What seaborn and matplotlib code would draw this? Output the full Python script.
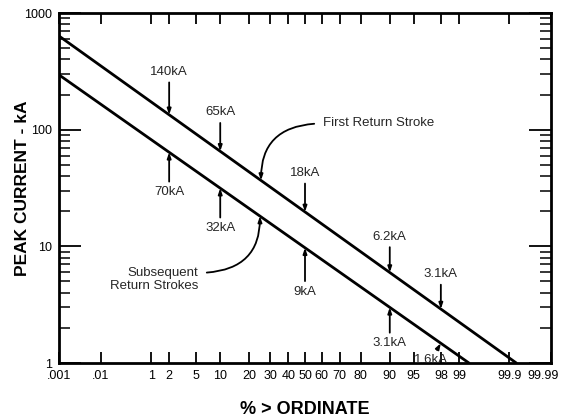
import numpy as np
import pandas as pd
import matplotlib
matplotlib.use("Agg")
import matplotlib.pyplot as plt
import matplotlib.transforms as mtransforms
from matplotlib.ticker import LogLocator, NullFormatter, FixedLocator, FixedFormatter
import seaborn as sns
from statistics import NormalDist

# ---- data ----
first_pct = [0.01, 99.93]      # % > ordinate
first_kA = [635, 1]
sub_pct = [0.01, 99.34]
sub_kA = [295, 1]

first_label_pct = [2, 10, 50, 90, 98]
first_label_txt = ["140kA", "65kA", "18kA", "6.2kA", "3.1kA"]
sub_label_pct = [2, 10, 50, 90, 98]
sub_label_txt = ["70kA", "32kA", "9kA", "3.1kA", "1.6kA"]

xtick_pos = [0.01, 0.1, 1, 2, 5, 10, 20, 30, 40, 50, 60, 70, 80, 90, 95, 98, 99, 99.9, 99.99]
xtick_labels = [".001", ".01", "1", "2", "5", "10", "20", "30", "40", "50", "60", "70",
                "80", "90", "95", "98", "99", "99.9", "99.99"]
ytick_pos = [1, 10, 100, 1000]
ytick_labels = ["1", "10", "100", "1000"]

first_leader_pct = 25.3
sub_leader_pct = 24.8

# ---- style ----
sns.set_style("ticks")
plt.rcParams["font.family"] = ["Liberation Sans", "DejaVu Sans"]

ND = NormalDist()


def fwd(p):
    p = np.asarray(p, dtype=float)
    q = np.clip(p / 100.0, 1e-12, 1 - 1e-12)
    out = []
    for v in q.ravel():
        try:
            out.append(ND.inv_cdf(float(v)))
        except Exception:
            out.append(np.nan)
    return np.array(out).reshape(q.shape)


def inv(z):
    z = np.asarray(z, dtype=float)
    out = [ND.cdf(float(v)) * 100 if np.isfinite(v) else np.nan for v in z.ravel()]
    return np.array(out).reshape(z.shape)


def line_at(pcts, vals, p):
    zs = fwd(np.array(pcts))
    lv = np.log10(np.array(vals, dtype=float))
    return 10 ** np.interp(fwd(np.array([p]))[0], zs, lv)


df = pd.DataFrame({
    "pct": first_pct + sub_pct,
    "kA": first_kA + sub_kA,
    "series": ["First Return Stroke"] * len(first_pct) + ["Subsequent Return Strokes"] * len(sub_pct),
})

fig = plt.figure(figsize=(5.62, 4.2), dpi=100)
ax = fig.add_axes([59 / 562, 1 - 363 / 420, (551 - 59) / 562, (363 - 13) / 420])

sns.lineplot(data=df, x="pct", y="kA", hue="series", palette=["black", "black"],
             estimator=None, sort=False, legend=False, linewidth=2.0, ax=ax)

ax.set_xscale("function", functions=(fwd, inv))
ax.set_yscale("log")
ax.set_xlim(0.01, 99.99)
ax.set_ylim(1, 1000)

ax.xaxis.set_major_locator(FixedLocator(xtick_pos))
ax.xaxis.set_major_formatter(FixedFormatter(xtick_labels))
ax.xaxis.set_minor_locator(FixedLocator([]))
ax.yaxis.set_major_locator(FixedLocator(ytick_pos))
ax.yaxis.set_major_formatter(FixedFormatter(ytick_labels))
ax.yaxis.set_minor_locator(LogLocator(base=10, subs=np.arange(2, 10)))
ax.yaxis.set_minor_formatter(NullFormatter())

ax.tick_params(axis="x", which="major", direction="in", length=8, width=1.3,
               top=True, bottom=True, labelsize=9, pad=5, colors="black")
ax.tick_params(axis="y", which="major", direction="in", length=16, width=1.3,
               left=True, right=True, labelsize=9, pad=5, colors="black")
ax.tick_params(axis="y", which="minor", direction="in", length=8, width=1.3,
               left=True, right=True)
for s in ax.spines.values():
    s.set_linewidth(2.0)
    s.set_color("black")
    s.set_visible(True)

ax.set_xlabel("% > ORDINATE", fontsize=13, fontweight="bold", color="black")
ax.set_ylabel("PEAK CURRENT - kA", fontsize=12.5, fontweight="bold", color="black")
ax.xaxis.set_label_coords(0.5, (363 - 401) / 350)
ax.yaxis.set_label_coords((30 - 59) / 492, 0.5)

# keep the last x tick label inside the figure (reference shows it flush right)
last_tick = ax.xaxis.get_major_ticks()[-1]
last_tick.label1.set_horizontalalignment("right")
last_tick.label1.set_transform(last_tick.label1.get_transform() +
                               mtransforms.ScaledTranslation(8 / 100, 0, fig.dpi_scale_trans))

arrow_kw = dict(arrowstyle="-|>,head_length=0.35,head_width=0.12", color="black",
                lw=1.3, shrinkA=1, shrinkB=0)

first_offsets = [(0, 43), (0, 39), (0, 39), (0, 36), (0, 35)]
for p, t, off in zip(first_label_pct, first_label_txt, first_offsets):
    yv = line_at(first_pct, first_kA, p)
    ax.annotate(t, xy=(p, yv), xytext=off, textcoords="offset pixels",
                ha="center", va="center", fontsize=9.5, arrowprops=arrow_kw)

sub_offsets = [(0, -40), (0, -40), (0, -44), (0, -36), (-10, -17)]
for p, t, off in zip(sub_label_pct, sub_label_txt, sub_offsets):
    yv = line_at(sub_pct, sub_kA, p)
    ax.annotate(t, xy=(p, yv), xytext=off, textcoords="offset pixels",
                ha="center", va="center", fontsize=9.5, arrowprops=arrow_kw)

lead_kw = dict(arrowstyle="-|>,head_length=0.35,head_width=0.12", color="black",
               lw=1.3, shrinkA=4, shrinkB=0)

ax.annotate("First Return Stroke",
            xy=(first_leader_pct, line_at(first_pct, first_kA, first_leader_pct)),
            xytext=(62, 57), textcoords="offset pixels", ha="left", va="center",
            fontsize=9.5,
            arrowprops=dict(**lead_kw, relpos=(0, 0.5),
                            connectionstyle="angle3,angleA=0,angleB=90"))

ax.annotate("Subsequent\nReturn Strokes",
            xy=(sub_leader_pct, line_at(sub_pct, sub_kA, sub_leader_pct)),
            xytext=(-62, -63), textcoords="offset pixels", ha="right", va="center",
            multialignment="right", fontsize=9.5, linespacing=1.1,
            arrowprops=dict(**lead_kw, relpos=(1, 0.75),
                            connectionstyle="angle3,angleA=0,angleB=90"))

fig.savefig("out.png", dpi=100)
